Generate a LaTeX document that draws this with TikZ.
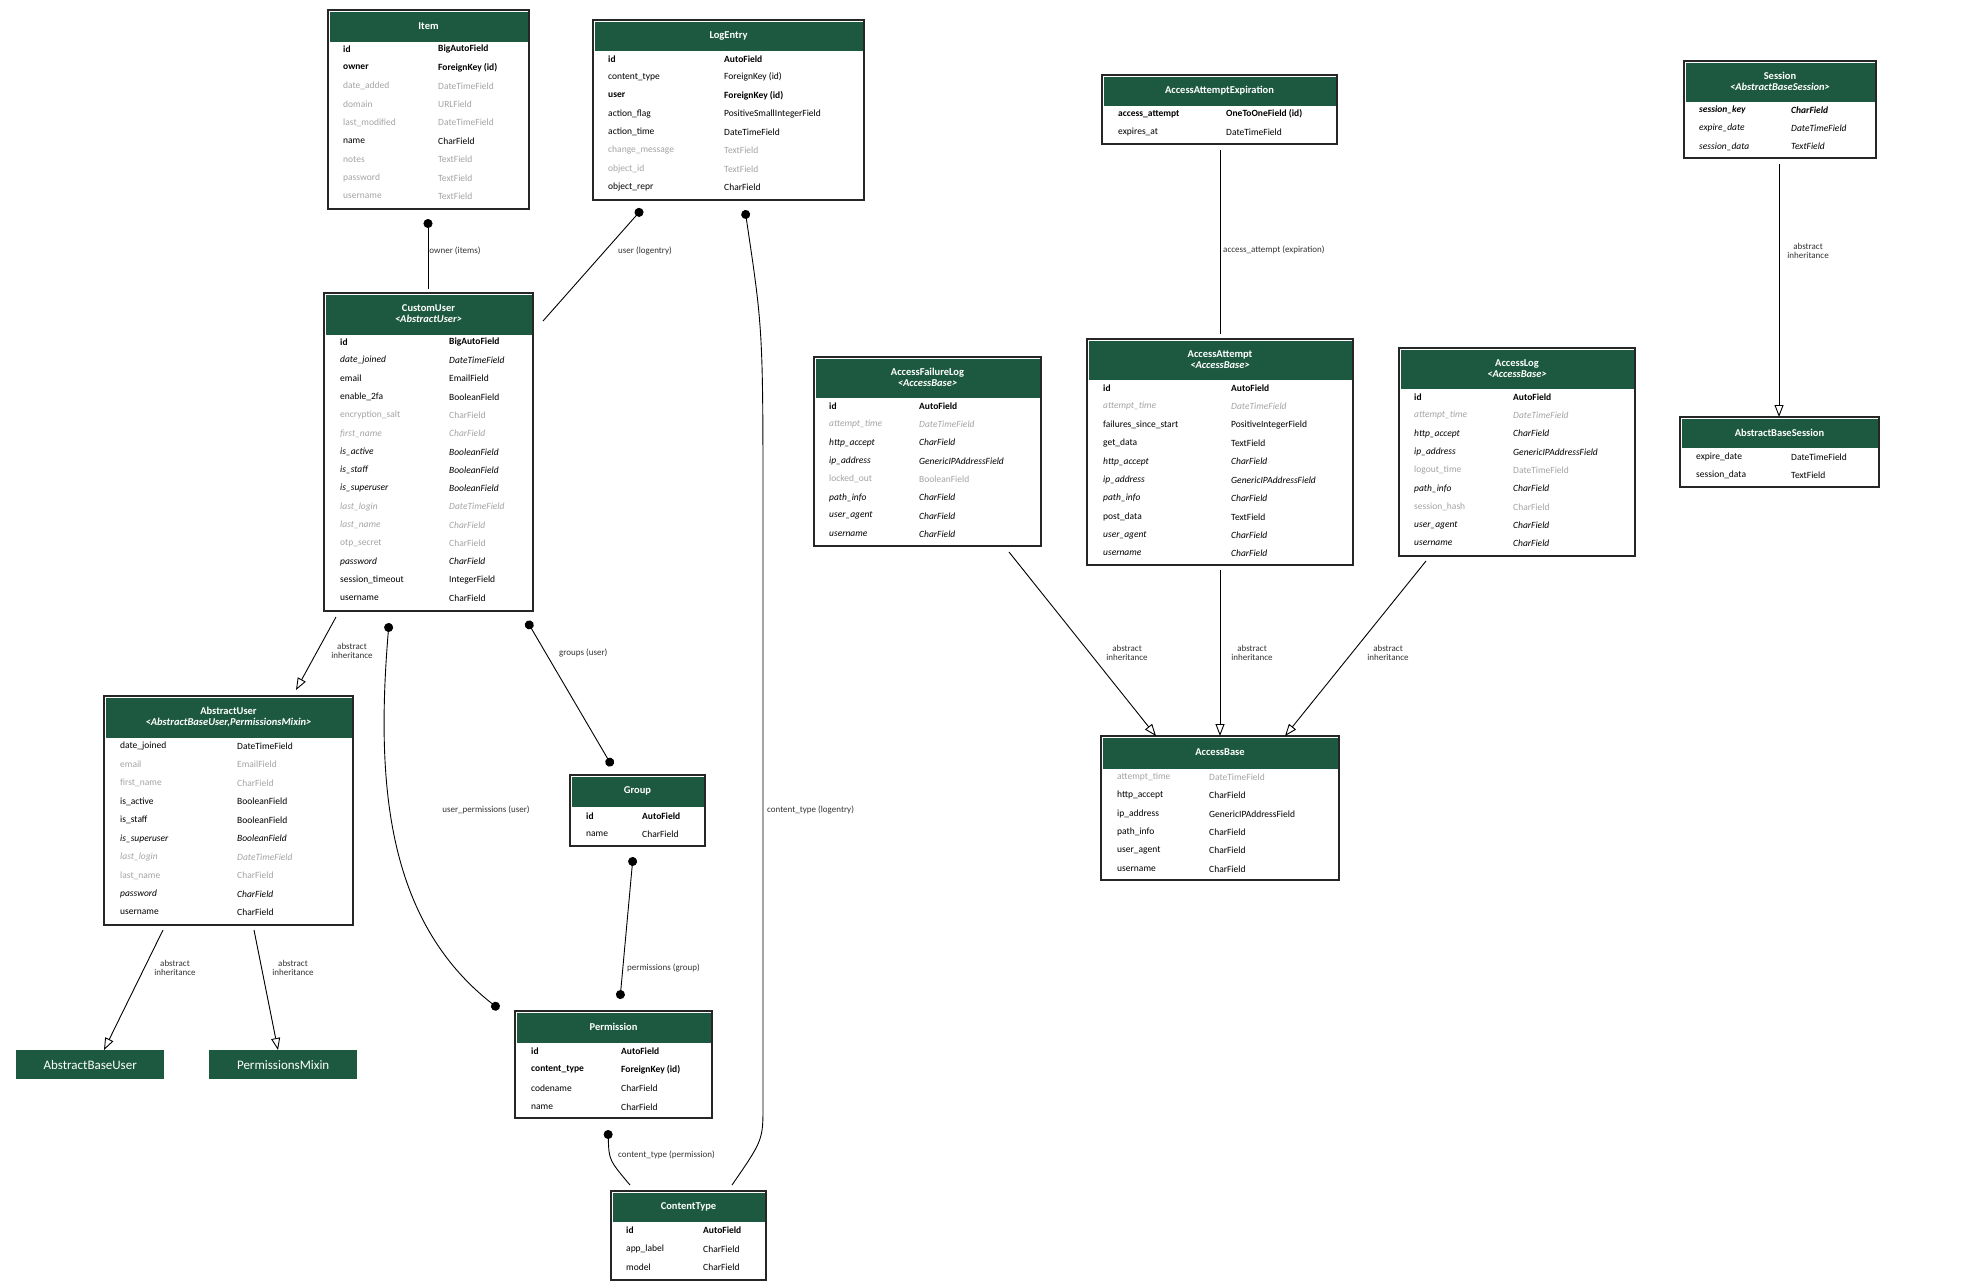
\documentclass[tikz,border=0pt]{standalone}
\usepackage{fontspec}
\setmainfont{Carlito}
\usetikzlibrary{arrows.meta}
\definecolor{hdrgreen}{HTML}{1D5941}
\definecolor{fgrey}{HTML}{A3A3A3}
\tikzset{
  hdr/.style={fill=hdrgreen},
  frame/.style={draw=black!85, line width=1.2pt, inner sep=0pt, outer sep=0pt, anchor=north west},
  ttl/.style={text=white, font=\fontsize{10.5}{12.5}\selectfont\bfseries, align=center},
  fld/.style={anchor=west, inner sep=0pt, font=\fontsize{9.5}{11}\selectfont},
  n/.style={},
  kb/.style={font=\fontsize{9.5}{11}\selectfont\bfseries},
  gr/.style={text=fgrey},
  it/.style={font=\fontsize{9.5}{11}\selectfont\itshape},
  gi/.style={text=fgrey, font=\fontsize{9.5}{11}\selectfont\itshape},
  bi/.style={font=\fontsize{9.5}{11}\selectfont\bfseries\itshape},
  rel/.style={line width=0.9pt, {Circle[length=9pt]}-},
  rel2/.style={line width=0.9pt, {Circle[length=9pt]}-{Circle[length=9pt]}},
  inh/.style={line width=0.9pt, -{Triangle[open, length=12pt, width=9pt]}},
  lbl/.style={font=\fontsize{9}{11}\selectfont, text=black!80, inner sep=1pt},
  lblc/.style={lbl, align=center},
  ext/.style={fill=hdrgreen, text=white, font=\fontsize{13}{15}\selectfont, inner sep=0pt, minimum height=29pt, anchor=north west}
}
% name, x1, y1, x2, y2, header bottom, title
\newcommand\ebox[7]{%
  \fill[hdr] (#2+1.5,#3+1.5) rectangle (#4-1.5,#6);
  \node[frame, minimum width={#4pt-#2pt}, minimum height={#5pt-#3pt}] (#1) at (#2,#3) {};
  \node[ttl] (#1-t) at ({(#2+#4)/2},{(#3+#6)/2}) {#7};}
% x1, x2, y0, dy, list
\newcommand\fields[5]{%
  \foreach \s/\n/\t [count=\i from 0] in {#5} {
    \node[fld,\s] at (#1,{#3+\i*#4}) {\n};
    \node[fld,\s] at (#2,{#3+\i*#4}) {\t};}}
\begin{document}
\begin{tikzpicture}[x=1pt,y=-1pt]
\useasboundingbox (0,0) rectangle (1975,1283);

% tables
\ebox{item}{328}{10}{529}{209}{41.5}{Item}
\fields{343}{438}{49}{18.4}{kb/id/BigAutoField, kb/owner/ForeignKey (id), gr/date\_added/DateTimeField, gr/domain/URLField, gr/last\_modified/DateTimeField, n/name/CharField, gr/notes/TextField, gr/password/TextField, gr/username/TextField}

\ebox{logentry}{593}{20}{864}{200}{51}{LogEntry}
\fields{608}{724}{59}{18.3}{kb/id/AutoField, n/content\_type/ForeignKey (id), kb/user/ForeignKey (id), n/action\_flag/PositiveSmallIntegerField, n/action\_time/DateTimeField, gr/change\_message/TextField, gr/object\_id/TextField, n/object\_repr/CharField}

\ebox{customuser}{324}{293}{533}{611}{334.5}{CustomUser\\[-2pt]\textit{<AbstractUser>}}
\fields{340}{449}{342}{18.3}{kb/id/BigAutoField, it/date\_joined/DateTimeField, n/email/EmailField, n/enable\_2fa/BooleanField, gr/encryption\_salt/CharField, gi/first\_name/CharField, it/is\_active/BooleanField, it/is\_staff/BooleanField, it/is\_superuser/BooleanField, gi/last\_login/DateTimeField, gi/last\_name/CharField, gr/otp\_secret/CharField, it/password/CharField, n/session\_timeout/IntegerField, n/username/CharField}

\ebox{abstractuser}{104}{696}{353}{925}{738}{AbstractUser\\[-2pt]\textit{<AbstractBaseUser,PermissionsMixin>}}
\fields{120}{237}{746}{18.5}{n/date\_joined/DateTimeField, gr/email/EmailField, gr/first\_name/CharField, n/is\_active/BooleanField, n/is\_staff/BooleanField, it/is\_superuser/BooleanField, gi/last\_login/DateTimeField, gr/last\_name/CharField, it/password/CharField, n/username/CharField}

\node[ext, minimum width=148pt] (abstractbaseuser) at (16,1050) {AbstractBaseUser};
\node[ext, minimum width=148pt] (permissionsmixin) at (209,1050) {PermissionsMixin};

\ebox{group}{570}{775}{705}{846}{807}{Group}
\fields{586}{642}{816}{18.5}{kb/id/AutoField, n/name/CharField}

\ebox{permission}{515}{1011}{712}{1118}{1043}{Permission}
\fields{531}{621}{1051}{18.7}{kb/id/AutoField, kb/content\_type/ForeignKey (id), n/codename/CharField, n/name/CharField}

\ebox{contenttype}{611}{1191}{766}{1280}{1222}{ContentType}
\fields{626}{703}{1230}{18.8}{kb/id/AutoField, n/app\_label/CharField, n/model/CharField}

\ebox{expiration}{1102}{75}{1337}{144}{106}{AccessAttemptExpiration}
\fields{1118}{1226}{114}{18.3}{kb/access\_attempt/OneToOneField (id), n/expires\_at/DateTimeField}

\ebox{session}{1684}{61}{1876}{158}{102}{Session\\[-2pt]\textit{<AbstractBaseSession>}}
\fields{1699}{1791}{110}{18.3}{bi/session\_key/CharField, it/expire\_date/DateTimeField, it/session\_data/TextField}

\ebox{abstractbasesession}{1680}{417}{1879}{487}{448}{AbstractBaseSession}
\fields{1696}{1791}{457}{18.3}{n/expire\_date/DateTimeField, n/session\_data/TextField}

\ebox{failurelog}{814}{357}{1041}{546}{398}{AccessFailureLog\\[-2pt]\textit{<AccessBase>}}
\fields{829}{919}{406}{18.3}{kb/id/AutoField, gi/attempt\_time/DateTimeField, it/http\_accept/CharField, it/ip\_address/GenericIPAddressField, gr/locked\_out/BooleanField, it/path\_info/CharField, it/user\_agent/CharField, it/username/CharField}

\ebox{attempt}{1087}{339}{1353}{565}{380}{AccessAttempt\\[-2pt]\textit{<AccessBase>}}
\fields{1103}{1231}{388}{18.4}{kb/id/AutoField, gi/attempt\_time/DateTimeField, n/failures\_since\_start/PositiveIntegerField, n/get\_data/TextField, it/http\_accept/CharField, it/ip\_address/GenericIPAddressField, it/path\_info/CharField, n/post\_data/TextField, it/user\_agent/CharField, it/username/CharField}

\ebox{accesslog}{1399}{348}{1635}{556}{389}{AccessLog\\[-2pt]\textit{<AccessBase>}}
\fields{1414}{1513}{397}{18.3}{kb/id/AutoField, gi/attempt\_time/DateTimeField, it/http\_accept/CharField, it/ip\_address/GenericIPAddressField, gr/logout\_time/DateTimeField, it/path\_info/CharField, gr/session\_hash/CharField, it/user\_agent/CharField, it/username/CharField}

\ebox{accessbase}{1101}{736}{1339}{880}{769}{AccessBase}
\fields{1117}{1209}{777}{18.4}{gr/attempt\_time/DateTimeField, n/http\_accept/CharField, n/ip\_address/GenericIPAddressField, n/path\_info/CharField, n/user\_agent/CharField, n/username/CharField}

% connector ends
\coordinate (item-s) at (428,219);
\coordinate (cu-n) at (428,289);
\coordinate (log-sw) at (642,209);
\coordinate (cu-ne) at (543,321);
\coordinate (log-se) at (745,210);
\coordinate (ct-ne) at (732,1185);
\coordinate (cu-sw) at (336,617);
\coordinate (au-n) at (296,690);
\coordinate (au-sw) at (163,930);
\coordinate (au-se) at (254,930);
\coordinate (cu-s) at (389,623);
\coordinate (perm-nw) at (499,1009);
\coordinate (cu-se) at (527,621);
\coordinate (grp-n) at (612,766);
\coordinate (grp-s) at (633,857);
\coordinate (perm-n) at (620,999);
\coordinate (perm-s) at (608,1130);
\coordinate (ct-nw) at (630,1185);
\coordinate (exp-s) at (1220,150);
\coordinate (att-n) at (1220,334);
\coordinate (ses-s) at (1779,164);
\coordinate (fl-s) at (1009,552);
\coordinate (att-s) at (1220,570);
\coordinate (al-s) at (1426,561);

% relations
\draw[rel] (item-s) -- node[lbl, right, pos=0.45] {owner (items)} (cu-n);
\draw[rel] (log-sw) -- (cu-ne);
\node[lbl, anchor=west] at (617,251) {user (logentry)};
\draw[rel] (log-se) .. controls (763,330) .. (763,520) -- (763,1105) .. controls (763,1140) .. (ct-ne);
\node[lbl, anchor=west] at (766,810) {content\_type (logentry)};
\draw[rel2] (cu-s) .. controls (376,780) and (385,920) .. (perm-nw);
\node[lbl] at (486,810) {user\_permissions (user)};
\draw[rel2] (cu-se) -- (grp-n);
\node[lbl, anchor=west] at (558,653) {groups (user)};
\draw[rel2] (grp-s) -- (perm-n);
\node[lbl, anchor=west] at (626,968) {permissions (group)};
\draw[rel] (perm-s) .. controls (609,1160) .. (ct-nw);
\node[lbl, anchor=west] at (617,1155) {content\_type (permission)};
\draw[line width=0.9pt] (exp-s) -- (att-n);
\node[lbl, anchor=west] at (1222,250) {access\_attempt (expiration)};

% inheritance
\draw[inh] (cu-sw) -- (au-n);
\node[lblc] at (352,651) {abstract\\[-2pt]inheritance};
\draw[inh] (au-sw) -- (abstractbaseuser.north -| 104,0);
\node[lblc] at (175,968) {abstract\\[-2pt]inheritance};
\draw[inh] (au-se) -- (abstractbaseuser.north -| 278,0);
\node[lblc] at (293,968) {abstract\\[-2pt]inheritance};
\draw[inh] (ses-s) -- (abstractbasesession.north -| ses-s);
\node[lblc] at (1808,251) {abstract\\[-2pt]inheritance};
\draw[inh] (fl-s) -- (accessbase.north -| 1156,0);
\node[lblc] at (1127,653) {abstract\\[-2pt]inheritance};
\draw[inh] (att-s) -- (accessbase.north -| att-s);
\node[lblc] at (1252,653) {abstract\\[-2pt]inheritance};
\draw[inh] (al-s) -- (accessbase.north -| 1285,0);
\node[lblc] at (1388,653) {abstract\\[-2pt]inheritance};
\end{tikzpicture}
\end{document}
